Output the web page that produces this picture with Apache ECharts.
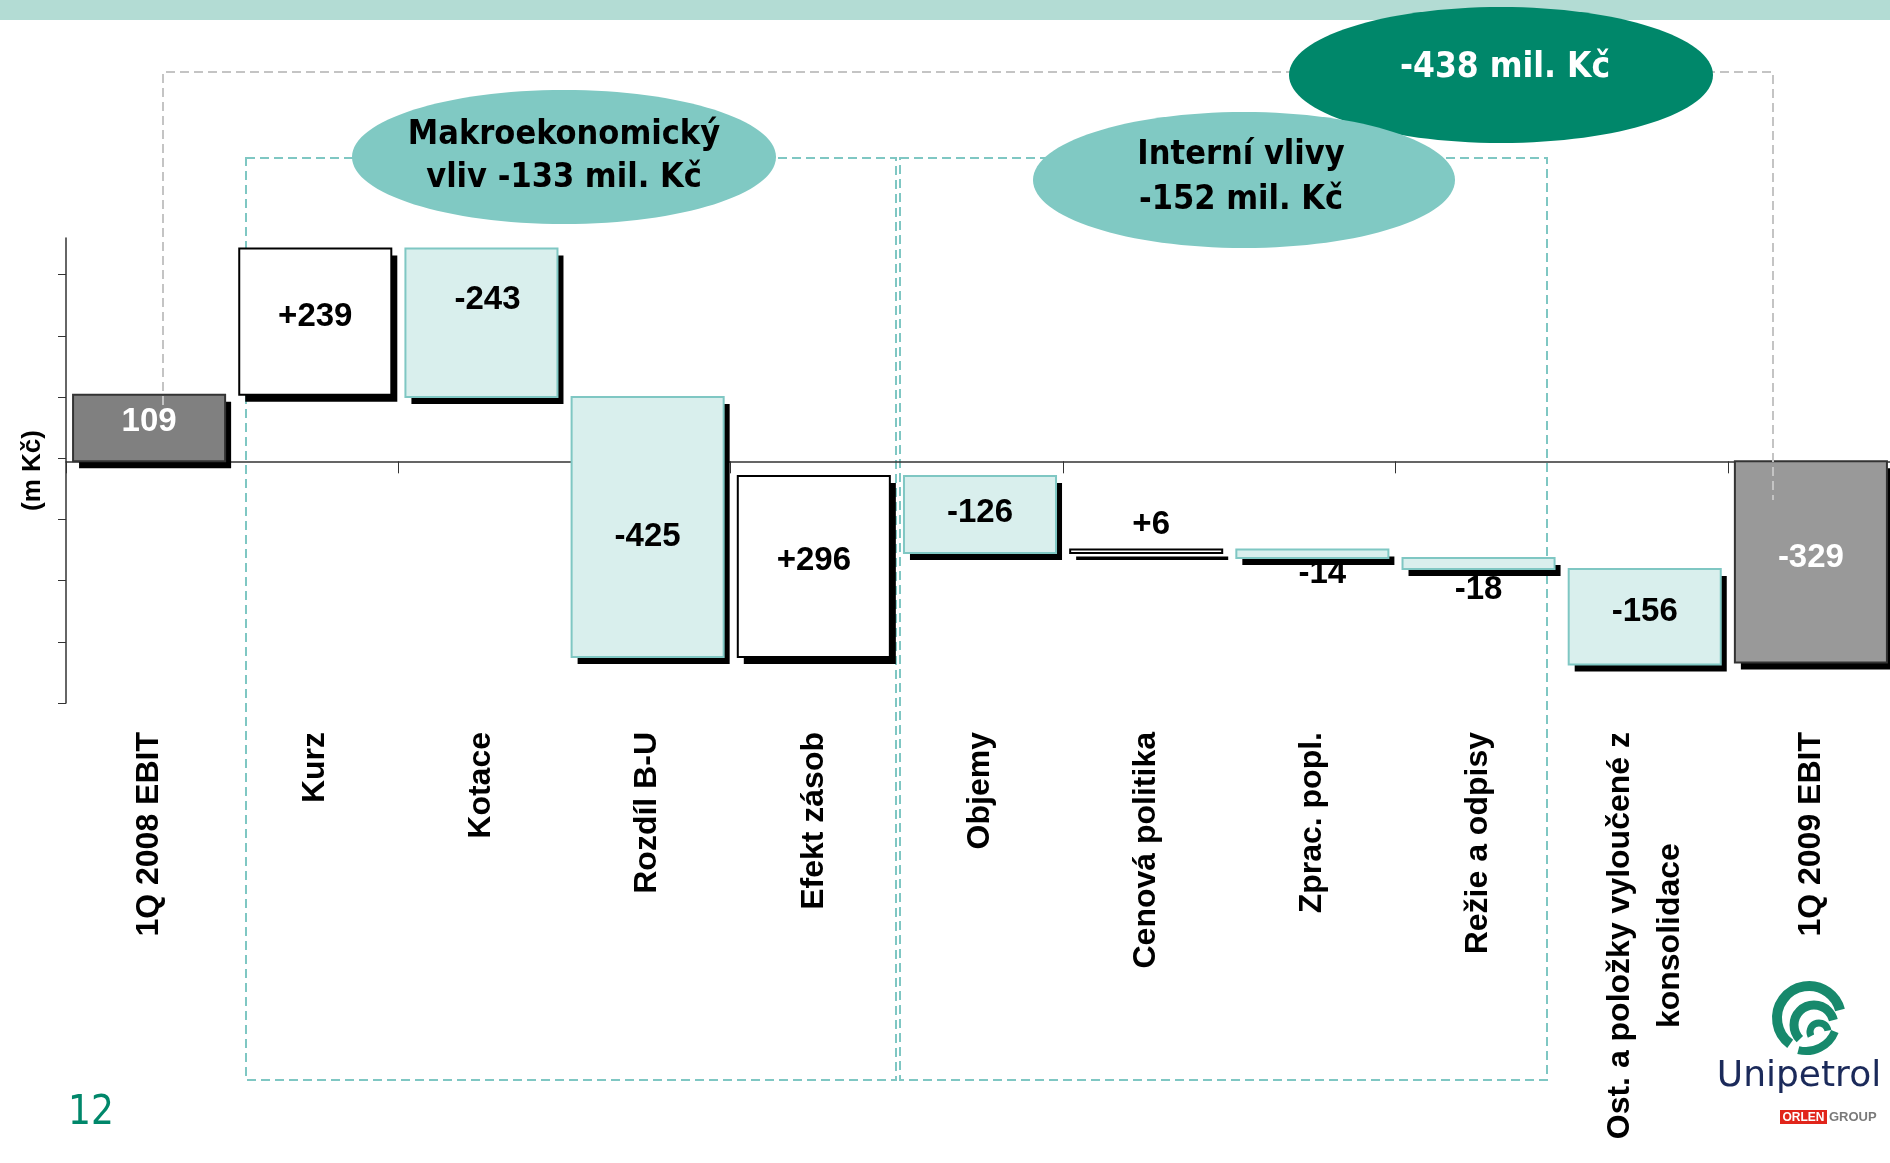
<!DOCTYPE html>
<html><head><meta charset="utf-8">
<script src="https://cdn.jsdelivr.net/npm/echarts@6/dist/echarts.min.js"></script>
<style>html,body{margin:0;padding:0;background:#fff}#c{width:1890px;height:1163px}</style>
</head><body><div id="c"></div>
<script>
// ---- data ----
var categories = ['1Q 2008 EBIT', 'Kurz', 'Kotace', 'Rozdíl B-U', 'Efekt zásob', 'Objemy',
  'Cenová politika', 'Zprac. popl.', 'Režie a odpisy', 'Ost. a položky vyloučené z\nkonsolidace', '1Q 2009 EBIT'];
var changes = [109, 239, -243, -425, 296, -126, 6, -14, -18, -156, -329];
var kinds = ['total', 'up', 'down', 'down', 'up', 'down', 'up', 'down', 'down', 'down', 'total'];
var valueLabels = ['109', '+239', '-243', '-425', '+296', '-126', '+6', '-14', '-18', '-156', '-329'];
var yTickValues = [-395, -295, -195, -95, 5, 105, 205, 305];
var bubbleTexts = ['Makroekonomický\nvliv -133 mil. Kč', 'Interní vlivy\n-152 mil. Kč', '-438 mil. Kč'];
var pageNumber = '12';

// ---- styles (not data) ----
var labelAnchor = ['c', 'c', 'c', 'c', 'c', 'c', 'top', 'bottom', 'bottom', 'c', 'c'];
var labelDy = [-6, -5, -23, 10, -6, -2, -25, 16, 21, -5, -4];
var labelDx = [0, 0, 6, 0, 0, 0, 5, 10, 0, 0, 0];
var totalFill = ['#808080', '#999999'];
var NUM_FONT = 'bold 33px "Liberation Sans", Arial, sans-serif';
var BUB_FONT = '"DejaVu Sans Condensed", "DejaVu Sans", sans-serif';

// waterfall ranges built from the values
var ranges = [];
var run = 0;
for (var i = 0; i < changes.length; i++) {
  var lo, hi;
  if (kinds[i] === 'total') {
    lo = Math.min(0, changes[i]); hi = Math.max(0, changes[i]); run = changes[i];
  } else {
    var next = run + changes[i];
    lo = Math.min(run, next); hi = Math.max(run, next); run = next;
  }
  ranges.push([i, lo, hi]);
}

function renderItem(params, api) {
  var idx = api.value(0);
  var pTop = api.coord([idx, api.value(2)]);
  var pBot = api.coord([idx, api.value(1)]);
  var band = api.size([1, 0])[0];
  var w = band * 0.915;
  var x = pTop[0] - w / 2;
  var y = pTop[1];
  var h = Math.max(pBot[1] - pTop[1], 1);
  var kind = kinds[idx];
  var fill, stroke, txtColor = '#000';
  if (kind === 'total') {
    fill = idx === 0 ? totalFill[0] : totalFill[1]; stroke = '#333'; txtColor = '#fff';
  } else if (kind === 'up') {
    fill = '#ffffff'; stroke = '#000';
  } else {
    fill = '#d9efed'; stroke = '#7fc7c3';
  }
  var ay;
  if (labelAnchor[idx] === 'top') ay = y;
  else if (labelAnchor[idx] === 'bottom') ay = y + h;
  else ay = y + h / 2;
  return {
    type: 'group',
    children: [
      { type: 'rect', shape: { x: x + 6, y: y + 7, width: w, height: h }, style: { fill: '#000' } },
      { type: 'rect', shape: { x: x, y: y, width: w, height: h }, style: { fill: fill, stroke: stroke, lineWidth: 2 } },
      { type: 'text', z2: 10, style: { text: valueLabels[idx], x: pTop[0] + labelDx[idx], y: ay + labelDy[idx],
          align: 'center', verticalAlign: 'middle', font: NUM_FONT, fill: txtColor } }
    ]
  };
}

var chart = echarts.init(document.getElementById('c'), null, { renderer: 'canvas' });
var G = '#17896c';

var option = {
  animation: false,
  backgroundColor: '#ffffff',
  grid: { left: 66, top: 238, width: 1828, height: 465, containLabel: false, outerBoundsMode: 'none' },
  xAxis: [
    {
      type: 'category', data: categories, position: 'bottom',
      axisLine: { show: false, onZero: false }, axisTick: { show: false }, splitLine: { show: false },
      axisLabel: {
        interval: 0, rotate: 90, margin: 29,
        formatter: function (v) {
          return v.split('\n').map(function (s) { return '{c|' + s + '}'; }).join('\n');
        },
        rich: {
          c: { align: 'center', fontSize: 32, fontWeight: 'bold', color: '#000',
               fontFamily: '"Liberation Sans", Arial, sans-serif', lineHeight: 50 }
        }
      }
    },
    {
      type: 'category', data: categories, position: 'bottom',
      axisLine: { show: true, onZero: true, lineStyle: { color: '#333', width: 1.5 } },
      axisTick: { show: true, length: 12, lineStyle: { color: '#333', width: 1 } },
      axisLabel: { show: false }, splitLine: { show: false }
    }
  ],
  yAxis: {
    type: 'value', min: -395, max: 365,
    axisLine: { show: true, lineStyle: { color: '#333', width: 1.5 } },
    axisTick: { show: true, length: 8, customValues: yTickValues, lineStyle: { color: '#333' } },
    axisLabel: { show: false }, splitLine: { show: false },
    name: '(m Kč)', nameLocation: 'middle', nameGap: 20, nameRotate: 90,
    nameTextStyle: { fontFamily: '"Liberation Sans", Arial, sans-serif', fontWeight: 'bold', fontSize: 26, color: '#000' }
  },
  series: [{
    type: 'custom', xAxisIndex: 0, yAxisIndex: 0, renderItem: renderItem,
    data: ranges, encode: { x: 0, y: [1, 2] }, z: 5, clip: false
  }],
  graphic: [
    // top band
    { type: 'rect', z: 1, shape: { x: 0, y: 0, width: 1890, height: 20 }, style: { fill: '#b3dcd4' } },
    // cyan dashed boxes (behind bars)
    { type: 'rect', z: 0, shape: { x: 246, y: 158, width: 650, height: 922 },
      style: { fill: 'none', stroke: '#7fc7c3', lineWidth: 2, lineDash: [9, 5] } },
    { type: 'rect', z: 0, shape: { x: 900, y: 158, width: 647, height: 922 },
      style: { fill: 'none', stroke: '#7fc7c3', lineWidth: 2, lineDash: [9, 5] } },
    // grey dashed bracket (over bars)
    { type: 'polyline', z: 10, shape: { points: [[163, 405], [163, 72], [1773, 72], [1773, 500]] },
      style: { fill: 'none', stroke: '#c4c4c4', lineWidth: 2, lineDash: [9, 5] } },
    // ellipses
    { type: 'ellipse', z: 20, shape: { cx: 1501, cy: 75, rx: 212, ry: 68 }, style: { fill: '#00876a' } },
    { type: 'ellipse', z: 21, shape: { cx: 564, cy: 157, rx: 212, ry: 67 }, style: { fill: '#80c9c3' } },
    { type: 'ellipse', z: 21, shape: { cx: 1244, cy: 180, rx: 211, ry: 68 }, style: { fill: '#80c9c3' } },
    { type: 'text', z: 25, style: { text: bubbleTexts[0], x: 564, y: 157, align: 'center', verticalAlign: 'middle',
        font: 'bold 34px ' + BUB_FONT, lineHeight: 43, fill: '#000' } },
    { type: 'text', z: 25, style: { text: bubbleTexts[1], x: 1241, y: 178, align: 'center', verticalAlign: 'middle',
        font: 'bold 34px ' + BUB_FONT, lineHeight: 45, fill: '#000' } },
    { type: 'text', z: 25, style: { text: bubbleTexts[2], x: 1505, y: 68, align: 'center', verticalAlign: 'middle',
        font: 'bold 35px ' + BUB_FONT, fill: '#ffffff' } },
    // page number
    { type: 'text', z: 25, style: { text: pageNumber, x: 91, y: 1114, align: 'center', verticalAlign: 'middle',
        font: '40px "Liberation Sans Narrow", "DejaVu Sans Condensed", sans-serif', fill: '#00876a' } },
    // logo
    { type: 'group', z: 30, children: [
      { type: 'arc', shape: { cx: 1809, cy: 1018, r: 32, startAngle: Math.PI * 0.7, endAngle: Math.PI * 1.92, clockwise: true },
        style: { fill: 'none', stroke: G, lineWidth: 10 } },
      { type: 'arc', shape: { cx: 1814, cy: 1025, r: 20, startAngle: Math.PI * 0.75, endAngle: Math.PI * 1.92, clockwise: true },
        style: { fill: 'none', stroke: G, lineWidth: 9 } },
      { type: 'arc', shape: { cx: 1819, cy: 1032, r: 9, startAngle: Math.PI * 0.85, endAngle: Math.PI * 1.95, clockwise: true },
        style: { fill: 'none', stroke: G, lineWidth: 7 } },
      { type: 'arc', shape: { cx: 1806, cy: 1020, r: 31, startAngle: Math.PI * 0.12, endAngle: Math.PI * 0.58, clockwise: true },
        style: { fill: 'none', stroke: G, lineWidth: 8 } },
      { type: 'text', style: { text: 'Unipetrol', x: 1799, y: 1077, align: 'center', verticalAlign: 'middle',
          font: '36px "DejaVu Sans", sans-serif', fill: '#1b2a5a' } },
      { type: 'rect', shape: { x: 1780, y: 1110, width: 47, height: 14 }, style: { fill: '#e1251b' } },
      { type: 'text', style: { text: 'ORLEN', x: 1803.5, y: 1117.5, align: 'center', verticalAlign: 'middle',
          font: 'bold 12px "Liberation Sans", Arial, sans-serif', fill: '#ffffff' } },
      { type: 'text', style: { text: 'GROUP', x: 1829, y: 1117.5, align: 'left', verticalAlign: 'middle',
          font: 'bold 13px "Liberation Sans", Arial, sans-serif', fill: '#7a7a7a' } }
    ] }
  ]
};
chart.setOption(option);
</script>
</body></html>
